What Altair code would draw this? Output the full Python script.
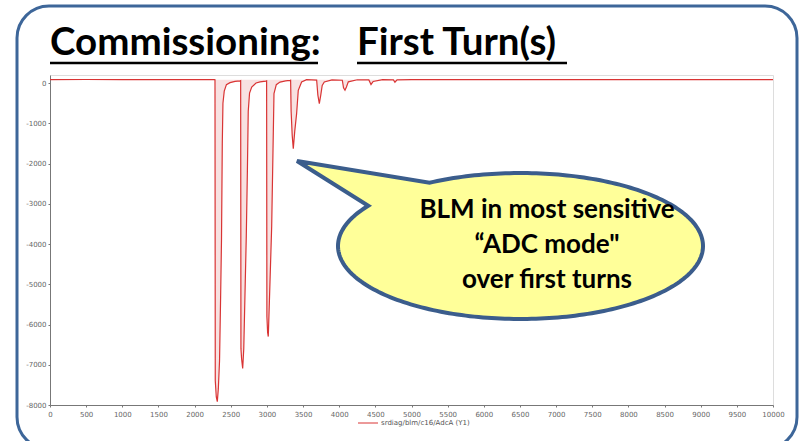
import altair as alt
import numpy as np
import pandas as pd

# BLM ADC trace (sample index vs ADC counts)
SAMPLE = [0, 500, 1000, 1500, 2000, 2270,
          2282, 2286, 2300, 2314, 2328, 2345, 2360, 2372, 2383, 2392, 2410, 2440, 2490, 2560, 2628,
          2637, 2641, 2650, 2665, 2680, 2700, 2715, 2730, 2742, 2760, 2790, 2850, 2905, 2985,
          2996, 3000, 3010, 3019, 3035, 3066, 3085, 3098, 3130, 3181, 3260, 3319,
          3328, 3335, 3350, 3365, 3385, 3411, 3434, 3480, 3549,
          3688, 3705, 3725, 3745, 3765, 3794, 3900,
          4043, 4060, 4080, 4100, 4126, 4250,
          4410, 4440, 4470, 4600,
          4750, 4771, 4800, 5000, 6000, 7000, 8000, 9000, 10000]
ADC = [85, 88, 84, 87, 85, 86,
       80, -7400, -7800, -7916, -7600, -6900, -5300, -3900, -1500, -500, -200, -40, 10, 40, 55,
       60, -6600, -6850, -7090, -6600, -5000, -3800, -2200, -700, -250, -100, 0, 30, 50,
       55, -5800, -6200, -6300, -5400, -3570, -1600, -263, -40, 25, 55, 67,
       70, -700, -1300, -1630, -1200, -760, -180, 25, 84,
       75, -300, -510, -300, -60, 25, 80,
       70, -120, -180, -100, 30, 82,
       78, -35, 40, 85,
       80, 20, 80, 86, 84, 86, 85, 86, 85]
BASELINE = 85
SERIES = "srdiag/blm/c16/AdcA (Y1)"
TRACE_COLOR = "#d93434"

X_TICKS = list(range(0, 10001, 500))
Y_TICKS = list(range(-8000, 1, 1000))

TITLE_LEFT = "Commissioning:"
TITLE_RIGHT = "First Turn(s)"
CALLOUT = ["BLM in most sensitive", "\u201cADC mode\"", "over first turns"]

W, H = 723, 330

trace = pd.DataFrame({"sample": SAMPLE, "adc": ADC})
one = pd.DataFrame({"k": [0]})

x_enc = alt.X("sample:Q", scale=alt.Scale(domain=[0, 10000], nice=False),
              axis=alt.Axis(values=X_TICKS, title=None, grid=False, labelExpr="'' + datum.value",
                            labelFontSize=7, labelColor="#666", labelFont="DejaVu Sans",
                            domainColor="#777", tickColor="#777", tickSize=2, labelPadding=3,
                            labelFlush=False))
y_enc = alt.Y("adc:Q", scale=alt.Scale(domain=[-8000, 200], nice=False),
              axis=alt.Axis(values=Y_TICKS, title=None, grid=False, labelExpr="'' + datum.value",
                            labelFontSize=7, labelColor="#666", labelFont="DejaVu Sans",
                            domainColor="#777", tickColor="#777", tickSize=2, labelPadding=2))

# pale band inside each dip
band = alt.Chart(trace).mark_area(color="#f3c9c9", opacity=0.55).encode(
    x=x_enc, y=y_enc, y2=alt.datum(BASELINE))

line = alt.Chart(trace).mark_line(strokeWidth=1.2, color=TRACE_COLOR).encode(x=x_enc, y=y_enc)

# series key under the plot
key_line = alt.Chart(one).mark_rule(color=TRACE_COLOR, strokeWidth=1).encode(
    x=alt.value(308), x2=alt.value(328), y=alt.value(348))
key_text = alt.Chart(one).mark_text(text=SERIES, font="DejaVu Sans", fontSize=7, color="#555",
                                    align="left", baseline="middle").encode(
    x=alt.value(331), y=alt.value(348))

# slide frame
frame = alt.Chart(one).mark_rect(cornerRadius=32, fillOpacity=0, stroke="#3d6699",
                                 strokeWidth=3).encode(
    x=alt.value(-33), x2=alt.value(747), y=alt.value(-69), y2=alt.value(374))

title_font = dict(font="Lato", fontWeight="bold", fontSize=38.5, color="#000",
                  align="left", baseline="alphabetic")
t1 = alt.Chart(one).mark_text(text=TITLE_LEFT, **title_font).encode(
    x=alt.value(0), y=alt.value(-20))
t2 = alt.Chart(one).mark_text(text=TITLE_RIGHT, **title_font).encode(
    x=alt.value(307), y=alt.value(-20))
u1 = alt.Chart(one).mark_rule(color="#000", strokeWidth=2.5).encode(
    x=alt.value(0), x2=alt.value(268), y=alt.value(-12))
u2 = alt.Chart(one).mark_rule(color="#000", strokeWidth=2.5).encode(
    x=alt.value(307), x2=alt.value(517), y=alt.value(-12))

# speech bubble: ellipse with a pointer, as one custom symbol path (unit = 100 px)
RX, RY = 1.825, 0.73
TIP = (-2.235, -0.85)
a_low = np.arctan2(-0.41 / RY, -1.55 / RX)
a_up = np.arctan2(-0.64 / RY, -0.92 / RX)
angles = np.linspace(a_low, a_up - 2 * np.pi, 240)
pts = [(RX * np.cos(a), RY * np.sin(a)) for a in angles]
path = "M{:.4f},{:.4f} ".format(*TIP) + " ".join("L{:.4f},{:.4f}".format(px, py) for px, py in pts) + " Z"

bubble = alt.Chart(one).mark_point(shape=path, size=40000, filled=True, fill="#ffff99",
                                   stroke="#3b5d8c", strokeWidth=4, opacity=1).encode(
    x=alt.value(470.5), y=alt.value(171))

bubble_text = alt.Chart(one).mark_text(text=CALLOUT, font="Lato", fontWeight="bold", fontSize=26,
                                       lineHeight=35, align="center", baseline="alphabetic",
                                       color="#000").encode(
    x=alt.value(497), y=alt.value(143))

chart = alt.layer(band, line, key_line, key_text, frame, t1, t2, u1, u2,
                  bubble, bubble_text).properties(
    width=W, height=H,
    autosize=alt.AutoSizeParams(type="none"),
    padding={"left": 50, "top": 75, "right": 31, "bottom": 36},
).configure_view(stroke="#555", strokeWidth=1).configure(background="white")

chart.save("out.html", embed_options={"renderer": "svg", "actions": False})
